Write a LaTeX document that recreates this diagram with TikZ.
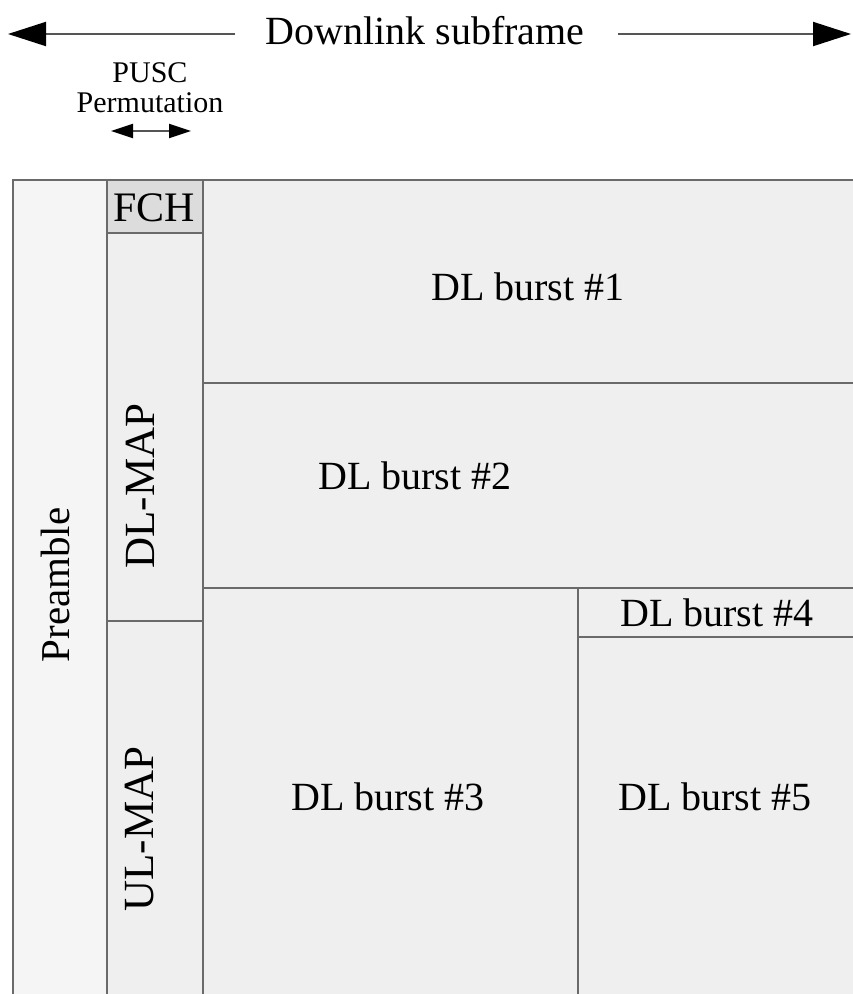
\documentclass[tikz,border=0pt]{standalone}
\usepackage{fontspec}
\setmainfont{Liberation Serif}
\usetikzlibrary{arrows.meta}
\definecolor{cellfill}{HTML}{EFEFEF}
\definecolor{prefill}{HTML}{F5F5F5}
\definecolor{fchfill}{HTML}{DCDCDC}
\definecolor{rule}{HTML}{6A6A6A}
\definecolor{arrowline}{HTML}{555555}
\begin{document}
\begin{tikzpicture}[x=1pt,y=-1pt,
  cell/.style={draw=rule,line width=2pt},
  lbl/.style={inner sep=0pt,font=\fontsize{40}{44}\selectfont},
  sidelbl/.style={inner sep=0pt,rotate=90,font=\fontsize{43}{47}\selectfont},
  span/.style={draw=arrowline,line width=2pt},
  bighead/.style={-{Triangle[length=38pt,width=24pt,fill=black,color=black]}},
  smallhead/.style={{Triangle[length=22pt,width=14pt,fill=black,color=black]}-{Triangle[length=22pt,width=14pt,fill=black,color=black]}}]
\useasboundingbox (0,0) rectangle (853,994);
\fill[white] (0,0) rectangle (853,994);
\begin{scope}
\clip (0,0) rectangle (853,994);
% frame regions
\filldraw[cell,fill=prefill]  (13,180)  rectangle (107,1010);
\filldraw[cell,fill=fchfill]  (107,180) rectangle (203,233);
\filldraw[cell,fill=cellfill] (107,233) rectangle (203,621);
\filldraw[cell,fill=cellfill] (107,621) rectangle (203,1010);
\filldraw[cell,fill=cellfill] (203,180) rectangle (870,383);
\filldraw[cell,fill=cellfill] (203,383) rectangle (870,588);
\filldraw[cell,fill=cellfill] (203,588) rectangle (578,1010);
\filldraw[cell,fill=cellfill] (578,588) rectangle (870,637);
\filldraw[cell,fill=cellfill] (578,637) rectangle (870,1010);
\end{scope}
% region labels
\node[sidelbl,font=\fontsize{41}{45}\selectfont] (pre) at (55,585) {Preamble};
\node[lbl,font=\fontsize{42}{46}\selectfont] (fch) at (154,208) {FCH};
\node[sidelbl] (dlmap) at (140,486) {DL-MAP};
\node[sidelbl] (ulmap) at (140,829) {UL-MAP};
\node[lbl] (b1) at (528,287) {DL burst \#1};
\node[lbl] (b2) at (415,476) {DL burst \#2};
\node[lbl] (b3) at (388,797) {DL burst \#3};
\node[lbl] (b4) at (717,613) {DL burst \#4};
\node[lbl] (b5) at (715,797) {DL burst \#5};
% subframe span
\node[lbl] (sub) at (425,31) {Downlink subframe};
\coordinate (subL) at (8,34);
\coordinate (subR) at (851,34);
\coordinate (subLin) at (235,34);
\coordinate (subRin) at (618,34);
\draw[span,bighead] (subLin) -- (subL);
\draw[span,bighead] (subRin) -- (subR);
% permutation span
\node[inner sep=0pt,font=\fontsize{30}{32}\selectfont,align=center] (pusc) at (150,73) {PUSC};
\node[inner sep=0pt,font=\fontsize{30}{32}\selectfont] (perm) at (150,103) {Permutation};
\coordinate (pL) at (111,131);
\coordinate (pR) at (191,131);
\draw[span,smallhead] (pL) -- (pR);
\end{tikzpicture}
\end{document}
